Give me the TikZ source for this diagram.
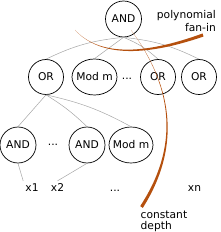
\documentclass[tikz,border=0pt]{standalone}
\usepackage{fontspec}
\setmainfont{DejaVu Sans}
\usetikzlibrary{shapes.geometric}
\definecolor{depthbrown}{RGB}{181,80,14}

\begin{document}
\begin{tikzpicture}[
  x=1pt, y=-1pt,
  font=\fontsize{10.7}{12}\selectfont,
  gate/.style={circle, draw=black, line width=0.7pt, minimum size=35pt, inner sep=0pt},
  modgate/.style={ellipse, draw=black, line width=0.7pt, minimum width=45pt,
                  minimum height=36pt, inner sep=0pt},
  wire/.style={draw=gray!70, line width=0.5pt},
  leaf/.style={inner sep=2pt},
  note/.style={inner sep=0pt}
]
  \useasboundingbox (0,0) rectangle (220,232);

  % --- Gates: top, middle and bottom row ---
  \node[gate, minimum size=36pt] (topand) at (123.5,19) {AND};
  \node[gate] (or1) at (46,77) {OR};
  \node[modgate] (modm1) at (94.5,77) {\makebox[0pt]{Mod m}};
  \node (dotsa) at (127,79) {...};
  \node[gate] (or3) at (158,77) {OR};
  \node[gate] (or4) at (199,77) {OR};
  \node[gate, minimum size=36pt] (and1) at (18,145) {AND};
  \node (dotsb) at (53,145) {...};
  \node[gate, minimum size=36pt] (and2) at (87,145) {AND};
  \node[modgate, minimum width=44pt] (modm2) at (131,145) {\makebox[0pt]{Mod m}};

  % --- Inputs ---
  \node[leaf, anchor=base] (x1) at (32,191) {x1};
  \node[leaf, anchor=base] (x2) at (57.5,191) {x2};
  \node[leaf, anchor=base] (dotsc) at (115,191) {...};
  \node[leaf, anchor=base] (xn) at (194.5,191) {xn};

  % --- Wires ---
  \draw[wire] (topand.south) to[bend right=10] (or1.north);
  \draw[wire] (topand.south) -- (modm1.north);
  \draw[wire] (topand.south) to[bend left=10] (or3.north);
  \draw[wire] (topand.south) to[bend left=10] (or4.north);
  \draw[wire] (or1.south) -- (and1.north);
  \draw[wire] (or1.south) to[bend left=6] (and2.north);
  \draw[wire] (or1.south) to[bend left=8] (modm2.north);
  \draw[wire] (and1.south) -- (x1.north west);
  \draw[wire] (and2.south) -- (x2.north);

  % --- Annotations (base = last line) ---
  \node[note, anchor=base east, align=right] (fanin) at (216,31.7)
       {polynomial\\[1.4pt]fan-in};
  \node[note, anchor=base west, align=left,
        font=\fontsize{10.7}{10.5}\selectfont] (depth) at (140.5,229.3)
       {constant\\depth};

  % --- Tapered brown strokes ---
  \fill[depthbrown] (75,30) .. controls (98.4,55.6) and (141.3,57.9) .. (203.5,36.5)
       -- (202.5,33.5) .. controls (140.7,56.1) and (98.2,55.0) .. cycle;
  \fill[depthbrown] (131,30) .. controls (175.5,89.8) and (179.6,149.5) .. (142.8,207.9)
       -- (140.2,206.1) .. controls (178,148.5) and (175.1,90.2) .. cycle;
\end{tikzpicture}
\end{document}
